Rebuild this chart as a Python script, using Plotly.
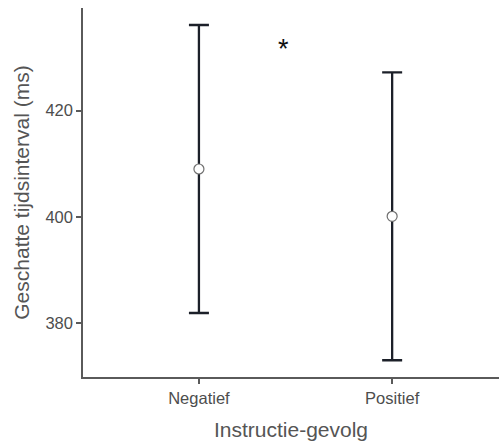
import plotly.graph_objects as go

categories = ["Negatief", "Positief"]
means = [409.0, 400.1]
ci_upper = [436.1, 427.2]
ci_lower = [381.9, 373.0]
y_ticks = [380, 400, 420]

err_plus = [u - m for u, m in zip(ci_upper, means)]
err_minus = [m - l for m, l in zip(means, ci_lower)]

fig = go.Figure()
fig.add_trace(go.Scatter(
    x=categories, y=means, mode="markers",
    marker=dict(size=10, color="white", line=dict(color="#707070", width=1.2)),
    error_y=dict(type="data", symmetric=False, array=err_plus, arrayminus=err_minus,
                 color="#1c2029", thickness=2.3, width=10),
    showlegend=False,
))

fig.add_annotation(x=0.44, y=431.6, xref="x", yref="y", text="*", showarrow=False,
                   font=dict(size=27, color="#111111", family="Liberation Sans, Arial"))

fig.update_layout(
    width=499, height=441,
    margin=dict(l=83, r=0, t=8, b=64),
    paper_bgcolor="white", plot_bgcolor="white",
    font=dict(family="Liberation Sans, Arial", color="#4d4d4d"),
    xaxis=dict(
        type="category", range=[-0.6, 1.553],
        showline=True, linecolor="#5a5a5a", linewidth=1.5,
        ticks="outside", ticklen=5, tickcolor="#5a5a5a", tickwidth=1.5,
        tickfont=dict(size=16.5, color="#4d4d4d"),
        showgrid=False, zeroline=False,
        title=dict(text="Instructie-gevolg", font=dict(size=21, color="#555555"), standoff=17),
    ),
    yaxis=dict(
        range=[369.85, 439.3],
        tickvals=y_ticks,
        showline=True, linecolor="#5a5a5a", linewidth=1.5,
        ticks="outside", ticklen=5, tickcolor="#5a5a5a", tickwidth=1.5,
        tickfont=dict(size=16.5, color="#4d4d4d"),
        showgrid=False, zeroline=False,
        title=dict(text="Geschatte tijdsinterval (ms)", font=dict(size=21, color="#555555"), standoff=10),
    ),
)

fig.write_html("out.html")
